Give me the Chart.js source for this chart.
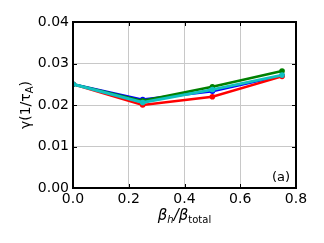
<!DOCTYPE html>
<html>
<head>
<meta charset="utf-8">
<script src="https://cdn.jsdelivr.net/npm/chart.js@4.4.0/dist/chart.umd.min.js"></script>
<style>
  html, body { margin: 0; padding: 0; background: #fff; }
  canvas { display: block; }
</style>
</head>
<body>
<canvas id="c" width="324" height="243"></canvas>
<script>
// fraction of hot-particle beta
var betaFrac = [0.0, 0.25, 0.5, 0.75];
// growth rates, one array per curve
var blueGamma = [0.025, 0.0213, 0.0233, 0.0271];
var redGamma = [0.025, 0.0200, 0.0220, 0.0269];
var greenGamma = [0.025, 0.0210, 0.0244, 0.0282];
var cyanGamma = [0.025, 0.0206, 0.0237, 0.0272];
var xTicks = [0.0, 0.2, 0.4, 0.6, 0.8];
var yTicks = [0.00, 0.01, 0.02, 0.03, 0.04];

function pts(ys) {
    return betaFrac.map(function (x, i) { return { x: x, y: ys[i] }; });
}
function line(ys, color, w) {
    return {
        data: pts(ys),
        borderColor: color,
        backgroundColor: color,
        borderWidth: w,
        pointRadius: 2.8,
        pointBorderWidth: 0,
        tension: 0
    };
}

var font = "DejaVu Sans";

// frame, inward ticks, axis titles, panel label
var decor = {
    id: 'decor',
    afterDraw: function (chart) {
        var c = chart.ctx, a = chart.chartArea;
        var xs = chart.scales.x, ys = chart.scales.y;
        c.save();
        c.strokeStyle = '#000';
        c.lineWidth = 1;
        xTicks.forEach(function (t) {
            var px = Math.round(xs.getPixelForValue(t)) + 0.5;
            c.beginPath();
            c.moveTo(px, a.bottom); c.lineTo(px, a.bottom - 4);
            c.moveTo(px, a.top); c.lineTo(px, a.top + 4);
            c.stroke();
        });
        yTicks.forEach(function (t) {
            var py = Math.round(ys.getPixelForValue(t)) + 0.5;
            c.beginPath();
            c.moveTo(a.left, py); c.lineTo(a.left + 4, py);
            c.moveTo(a.right, py); c.lineTo(a.right - 4, py);
            c.stroke();
        });
        c.lineWidth = 2;
        c.strokeRect(a.left, a.top, a.right - a.left, a.bottom - a.top);

        c.fillStyle = '#000';
        c.textBaseline = 'alphabetic';
        // (a)
        c.font = '13px "' + font + '"';
        c.textAlign = 'right';
        c.fillText('(a)', a.right - 6, a.bottom - 7);

        function drawParts(list, cx, by) {
            var w = 0;
            list.forEach(function (p) { c.font = p.f; w += c.measureText(p.t).width; });
            var x = cx - w / 2;
            c.textAlign = 'left';
            list.forEach(function (p) {
                c.font = p.f;
                c.fillText(p.t, x, by + p.dy);
                x += c.measureText(p.t).width;
            });
        }
        // x title: βh/βtotal
        drawParts([
            { t: 'β', f: 'italic 15px "' + font + '"', dy: 0 },
            { t: 'h', f: 'italic 10px "' + font + '"', dy: 3 },
            { t: '/', f: 'italic 15px "' + font + '"', dy: 0 },
            { t: 'β', f: 'italic 15px "' + font + '"', dy: 0 },
            { t: 'total', f: '10px "' + font + '"', dy: 3 }
        ], (a.left + a.right) / 2, 220);

        // y title: γ(1/τA)
        c.translate(30, (a.top + a.bottom) / 2);
        c.rotate(-Math.PI / 2);
        drawParts([
            { t: 'γ(1/τ', f: '14px "' + font + '"', dy: 0 },
            { t: 'A', f: '10px "' + font + '"', dy: 3 },
            { t: ')', f: '14px "' + font + '"', dy: 0 }
        ], 0, 0);
        c.restore();
    }
};

// first dataset is drawn on top in Chart.js, so list top-most curve first
new Chart(document.getElementById('c').getContext('2d'), {
    type: 'line',
    data: {
        datasets: [
            line(cyanGamma, '#10c0c0', 3),
            line(greenGamma, '#008000', 2.5),
            line(redGamma, '#ff0000', 2.5),
            line(blueGamma, '#0000ff', 2.5)
        ]
    },
    options: {
        responsive: false,
        animation: false,
        layout: { padding: { left: 0, top: 22, right: 28, bottom: 0 } },
        plugins: { legend: { display: false }, tooltip: { enabled: false } },
        scales: {
            x: {
                type: 'linear',
                min: 0, max: 0.8,
                afterBuildTicks: function (s) { s.ticks = xTicks.map(function (v) { return { value: v }; }); },
                afterFit: function (s) { s.height = 55; },
                grid: { color: '#c8c8c8', lineWidth: 1, drawTicks: false },
                border: { display: false },
                ticks: {
                    color: '#000', padding: 3,
                    font: { family: font, size: 14 },
                    maxRotation: 0,
                    callback: function (v) { return v.toFixed(1); }
                }
            },
            y: {
                type: 'linear',
                min: 0, max: 0.04,
                afterBuildTicks: function (s) { s.ticks = yTicks.map(function (v) { return { value: v }; }); },
                afterFit: function (s) { s.width = 73; },
                grid: { color: '#c8c8c8', lineWidth: 1, drawTicks: false },
                border: { display: false },
                ticks: {
                    color: '#000', padding: 4,
                    font: { family: font, size: 14 },
                    callback: function (v) { return v.toFixed(2); }
                }
            }
        }
    },
    plugins: [decor]
});
</script>
</body>
</html>
